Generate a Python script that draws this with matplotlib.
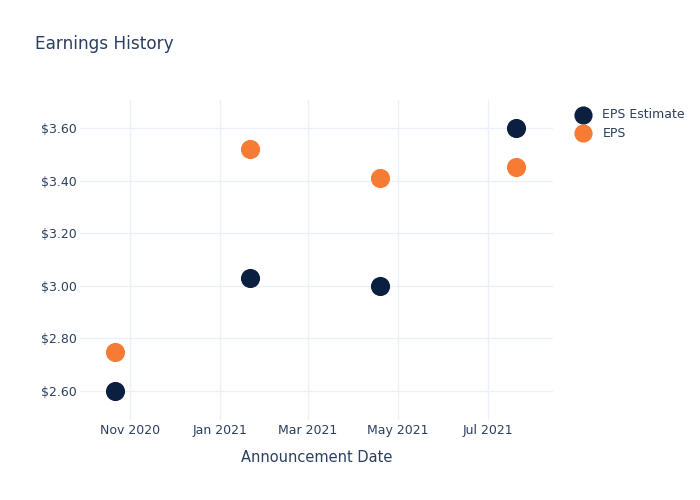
import matplotlib
matplotlib.use("Agg")
import matplotlib.pyplot as plt
import matplotlib.dates as mdates
import pandas as pd

dates = pd.to_datetime(["2020-10-22", "2021-01-21", "2021-04-19", "2021-07-20"])
eps_estimate = [2.60, 3.03, 3.00, 3.60]
eps_actual = [2.75, 3.52, 3.41, 3.45]
y_ticks = [2.60, 2.80, 3.00, 3.20, 3.40, 3.60]

TEXT = "#2a3f5f"
GRID = "#ebf0f8"
NAVY = "#0b1f41"
ORANGE = "#f67b35"

fig = plt.figure(figsize=(7, 5), dpi=100)
ax = fig.add_axes([80/700, 1-420/500, (553-80)/700, 320/500])

ax.scatter(dates, eps_estimate, s=190, color=NAVY, label="EPS Estimate", zorder=3, linewidths=0)
ax.scatter(dates, eps_actual, s=190, color=ORANGE, label="EPS", zorder=3, linewidths=0)

ax.set_xlim(pd.Timestamp("2020-09-28"), pd.Timestamp("2021-08-14"))
ax.set_ylim(2.49, 3.706)
ax.set_yticks(y_ticks)
ax.set_yticklabels([f"${v:.2f}" for v in y_ticks])
ax.xaxis.set_major_locator(mdates.MonthLocator(bymonth=[1, 3, 5, 7, 9, 11]))
ax.xaxis.set_major_formatter(mdates.DateFormatter("%b %Y"))

for s in ax.spines.values():
    s.set_visible(False)
ax.grid(True, color=GRID, linewidth=1)
ax.set_axisbelow(True)
ax.tick_params(length=0, colors=TEXT, labelsize=9)
ax.tick_params(axis="y", pad=2)
ax.tick_params(axis="x", pad=3)
ax.set_xlabel("Announcement Date", color=TEXT, fontsize=10.5, labelpad=9)

fig.text(35/700, 1-44/500, "Earnings History", color=TEXT, fontsize=12.2, va="center", ha="left")

leg = fig.legend(loc="upper left", bbox_to_anchor=(565/700, 1-103/500), frameon=False,
                 fontsize=9, labelcolor=TEXT, markerscale=0.95, handletextpad=0.6,
                 labelspacing=0.45, borderaxespad=0)

fig.savefig("out.png", dpi=100)
